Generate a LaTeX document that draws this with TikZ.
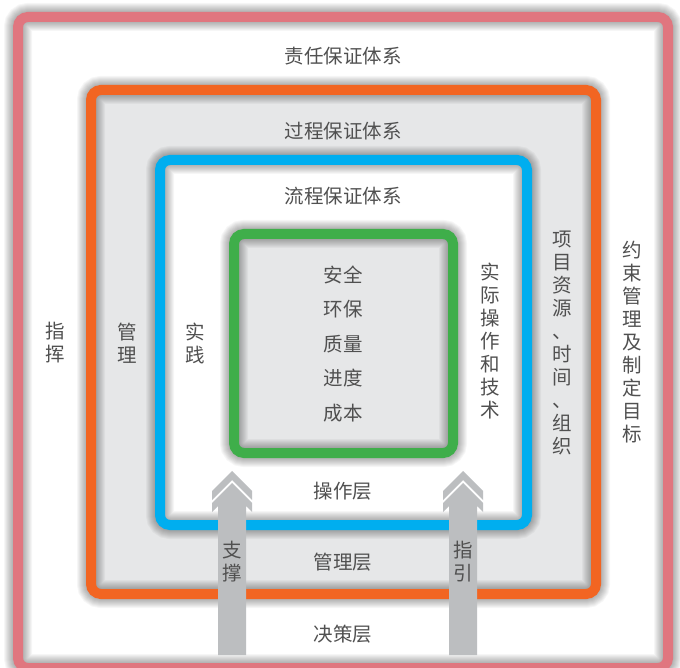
\documentclass[tikz,border=0pt]{standalone}
\usepackage{fontspec}
\setmainfont{Noto Sans CJK SC}
\definecolor{pinkc}{HTML}{E0767F}
\definecolor{orangec}{HTML}{F26522}
\definecolor{bluec}{HTML}{00AEEF}
\definecolor{greenc}{HTML}{3FAE4A}
\definecolor{fillgray}{HTML}{E6E7E8}
\definecolor{arrowgray}{HTML}{BCBEC0}
\definecolor{txt}{HTML}{505050}
\begin{document}
\begin{tikzpicture}[x=1pt,y=-1pt,
  frame/.style={line width=10pt, rounded corners=10pt},
  halo/.style={black, opacity=0.035, line width=#1, rounded corners=10pt},
  lbl/.style={text=txt, font=\fontsize{19.5}{23}\selectfont, align=center, inner sep=0pt},
  listlbl/.style={text=txt, font=\fontsize{19.5}{34.5}\selectfont, align=center, inner sep=0pt},
  arrowshape/.style={fill=arrowgray}]
\useasboundingbox (0,0) rectangle (680,668);
\fill[white] (0,0) rectangle (680,668);
% pink frame
\fill[white, rounded corners=10pt] (18,17) rectangle (668,668);
\foreach \w in {12,14,...,28} \draw[halo=\w pt] (18,17) rectangle (668,668);
\draw[frame, pinkc] (18,17) rectangle (668,668);
% orange frame
\fill[fillgray, rounded corners=10pt] (91,90) rectangle (596,594);
\foreach \w in {12,14,...,28} \draw[halo=\w pt] (91,90) rectangle (596,594);
\draw[frame, orangec] (91,90) rectangle (596,594);
% blue frame
\fill[white, rounded corners=10pt] (160,160) rectangle (527,525);
\foreach \w in {12,14,...,28} \draw[halo=\w pt] (160,160) rectangle (527,525);
\draw[frame, bluec] (160,160) rectangle (527,525);
% green frame
\fill[fillgray, rounded corners=10pt] (234,234) rectangle (453,453);
\foreach \w in {12,14,...,28} \draw[halo=\w pt] (234,234) rectangle (453,453);
\draw[frame, greenc] (234,234) rectangle (453,453);
% arrows
\foreach \cx in {232,463}{
  \fill[arrowshape] (\cx,471) -- (\cx+20,491) -- (\cx+20,500) -- (\cx,480) -- (\cx-20,500) -- (\cx-20,491) -- cycle;
  \fill[arrowshape] (\cx,483) -- (\cx+20,503) -- (\cx+20,512) -- (\cx+14,506) -- (\cx+14,655) -- (\cx-14,655) -- (\cx-14,506) -- (\cx-20,512) -- (\cx-20,503) -- cycle;
}
% texts
\node[lbl] (t1) at (343,56) {责任保证体系};
\node[lbl] (t2) at (343,131) {过程保证体系};
\node[lbl] (t3) at (343,196) {流程保证体系};
\node[listlbl] (core) at (343,344) {安全\\环保\\质量\\进度\\成本};
\node[lbl] (zh) at (55,343) {指\\挥};
\node[lbl] (gl) at (127,343) {管\\理};
\node[lbl] (sj) at (195,343) {实\\践};
\node[lbl] (sjcz) at (490,341) {实\\际\\操\\作\\和\\技\\术};
\node[lbl] (xm) at (562,343) {项\\目\\资\\源\\、\\时\\间\\、\\组\\织};
\node[lbl] (ys) at (632,342) {约\\束\\管\\理\\及\\制\\定\\目\\标};
\node[lbl] (czc) at (343,491) {操作层};
\node[lbl] (glc) at (343,562) {管理层};
\node[lbl] (jcc) at (343,634) {决策层};
\node[lbl] (zc) at (232,562) {支\\撑};
\node[lbl] (zy) at (463,562) {指\\引};
\end{tikzpicture}
\end{document}
